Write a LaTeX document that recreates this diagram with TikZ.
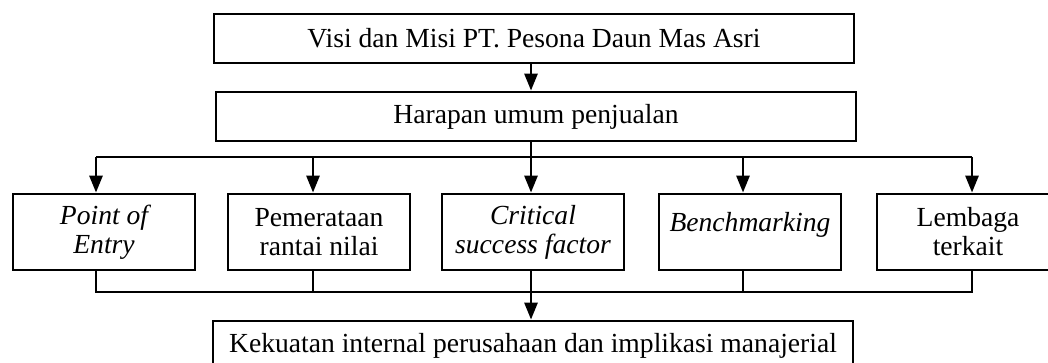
\documentclass[tikz,border=0pt]{standalone}
\usepackage{fontspec}
\setmainfont{Liberation Serif}
\usetikzlibrary{arrows.meta}

\begin{document}
\begin{tikzpicture}[x=0.5pt,y=-0.5pt,
  box/.style={draw,line width=1.4pt,minimum width=320pt,minimum height=24.5pt,inner sep=0pt,font=\fontsize{13.8}{15}\selectfont},
  item/.style={draw,line width=1.4pt,minimum width=91pt,minimum height=38pt,inner sep=0pt,align=center,font=\fontsize{13.8}{14.5}\selectfont},
  arr/.style={line width=1.4pt,-{Triangle[length=8.5pt,width=6.5pt]}},
  ln/.style={line width=1.4pt}]
\clip (0,0) rectangle (1048,363);
\node[box] (visi) at (534,38.5) {Visi dan Misi PT. Pesona Daun Mas Asri};
\node[box] (harapan) at (536,116.5) {Harapan umum penjualan};
\node[item] (entry) at (104,232) {\itshape Point of\\\itshape Entry};
\node[item] (rantai) at (319,232) {Pemerataan\\rantai nilai};
\node[item] (csf) at (533,232) {\itshape Critical\\\itshape success factor};
\node[item,text height=6pt,text depth=6pt] (bench) at (750,232) {\itshape Benchmarking};
\node[item] (lembaga) at (968,232) {Lembaga\\terkait};
\node[box] (kekuatan) at (533,345.5) {Kekuatan internal perusahaan dan implikasi manajerial};
% titik percabangan
\coordinate (c1) at (96,157);
\coordinate (c2) at (313,157);
\coordinate (c3) at (531,157);
\coordinate (c4) at (743,157);
\coordinate (c5) at (972,157);
\coordinate (d1) at (96,292);
\coordinate (d2) at (313,292);
\coordinate (d3) at (531,292);
\coordinate (d4) at (743,292);
\coordinate (d5) at (972,292);
\draw[arr] (visi.south -| c3) -- (harapan.north -| c3);
\draw[ln] (harapan.south -| c3) -- (c3);
\draw[ln] (c1) -- (c5);
\draw[arr] (c1) -- (c1 |- entry.north);
\draw[arr] (c2) -- (c2 |- rantai.north);
\draw[arr] (c3) -- (c3 |- csf.north);
\draw[arr] (c4) -- (c4 |- bench.north);
\draw[arr] (c5) -- (c5 |- lembaga.north);
\draw[ln] (d1 |- entry.south) -- (d1) -- (d5) -- (d5 |- lembaga.south);
\draw[ln] (d2 |- rantai.south) -- (d2);
\draw[ln] (d3 |- csf.south) -- (d3);
\draw[ln] (d4 |- bench.south) -- (d4);
\draw[arr] (d3) -- (d3 |- kekuatan.north);
\end{tikzpicture}
\end{document}
